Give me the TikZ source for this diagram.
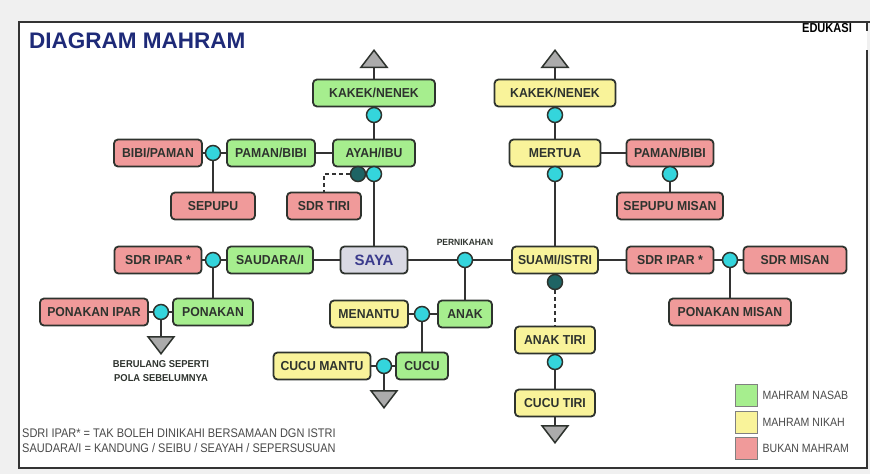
\documentclass[tikz,border=0pt]{standalone}
\usepackage{fontspec}
\setmainfont{Liberation Sans}
\newfontfamily\boxfont[FakeStretch=0.94]{Liberation Sans}
\newfontfamily\notefont[FakeStretch=0.88]{Liberation Sans}
\newfontfamily\stampfont[FakeStretch=0.85]{Liberation Sans}
\usetikzlibrary{positioning,shapes.geometric}
\definecolor{pagebg}{HTML}{F0F0F0}
\definecolor{nasab}{HTML}{A6EE8E}
\definecolor{nikah}{HTML}{F9F39A}
\definecolor{bukan}{HTML}{F09A9A}
\definecolor{selfgray}{HTML}{D9D9E3}
\definecolor{selfblue}{HTML}{3A3A8C}
\definecolor{dotcyan}{HTML}{34D5DC}
\definecolor{dottiri}{HTML}{1E6464}
\definecolor{trigray}{HTML}{ABABAB}
\definecolor{titleblue}{HTML}{1E2A78}
\definecolor{boxline}{HTML}{2E332E}
\definecolor{linecol}{HTML}{333333}
\definecolor{notegray}{HTML}{4A4A4A}

\begin{document}
\begin{tikzpicture}[x=1pt,y=-1pt,every node/.style={inner sep=0pt},
box/.style={draw=boxline,line width=1.8pt,rounded corners=4pt,minimum height=27pt,text=boxline,font=\boxfont\bfseries\fontsize{13}{13}\selectfont},
nasabbox/.style={box,fill=nasab},
nikahbox/.style={box,fill=nikah},
bukanbox/.style={box,fill=bukan},
dot/.style={circle,draw=boxline,line width=1.5pt,fill=dotcyan,minimum size=15pt},
tiridot/.style={dot,fill=dottiri},
uptri/.style={isosceles triangle,isosceles triangle stretches,shape border rotate=90,draw=boxline,line width=1.5pt,fill=trigray,minimum width=26pt,minimum height=17pt},
downtri/.style={uptri,shape border rotate=270},
link/.style={draw=linecol,line width=2.2pt},
tirilink/.style={link,dash pattern=on 4pt off 3pt},
smalltext/.style={text=boxline,font=\boxfont\bfseries\fontsize{10}{14}\selectfont,align=center},
notetext/.style={text=notegray,font=\notefont\fontsize{12.5}{12.5}\selectfont,anchor=west},
legbox/.style={draw=gray,line width=0.8pt,minimum size=22pt}]

% page and frame
\useasboundingbox (0,0) rectangle (870,474);
\fill[pagebg] (0,0) rectangle (870,474);
\fill[white] (19,22) rectangle (867,468);
\draw[linecol,line width=1.5pt] (870,22) -- (19,22) -- (19,468) -- (867,468) -- (867,50);
\draw[linecol,line width=1.5pt] (867,22) -- (867,31);
\node[anchor=west,text=titleblue,font=\bfseries\fontsize{22.5}{22.5}\selectfont] (title) at (29,41) {DIAGRAM MAHRAM};
\node[font=\stampfont\bfseries\fontsize{13}{13}\selectfont] (stamp) at (827,28) {EDUKASI};

% own side
\node[uptri,anchor=lower side] (upL) at (374,68) {};
\node[nasabbox,minimum width=122pt] (kakekL) at (374,93) {KAKEK/NENEK};
\node[dot] (dotKL) at (374,115) {};
\node[nasabbox,minimum width=82pt] (ayah) at (374,153) {AYAH/IBU};
\node[nasabbox,minimum width=88pt] (paman) at (271,153) {PAMAN/BIBI};
\node[bukanbox,minimum width=88pt] (bibi) at (158,153) {BIBI/PAMAN};
\node[dot] (dotPaman) at (213,153) {};
\node[bukanbox,minimum width=84pt] (sepupu) at (213,206) {SEPUPU};
\node[bukanbox,minimum width=74pt] (sdrtiri) at (324,206) {SDR TIRI};
\node[tiridot] (tiriAyah) at (358,174) {};
\node[dot] (dotAyah) at (374,174) {};

\node[box,fill=selfgray,minimum width=67pt,text=selfblue,font=\bfseries\fontsize{15}{15}\selectfont] (saya) at (374,260) {SAYA};
\node[nasabbox,minimum width=86pt] (saudara) at (270,260) {SAUDARA/I};
\node[bukanbox,minimum width=87pt] (sdripar) at (158,260) {SDR IPAR *};
\node[dot] (dotSdr) at (213,260) {};
\node[nasabbox,minimum width=80pt] (ponakan) at (213,312) {PONAKAN};
\node[bukanbox,minimum width=108pt] (ponipar) at (94,312) {PONAKAN IPAR};
\node[dot] (dotPon) at (161,312) {};
\node[downtri,anchor=lower side] (downPon) at (161,336) {};
\node[smalltext,below=5pt of downPon] (berulang) {BERULANG SEPERTI\\POLA SEBELUMNYA};

% children
\node[dot] (dotNikah) at (465,260) {};
\node[smalltext,font=\boxfont\bfseries\fontsize{9}{9}\selectfont,above=6pt of dotNikah] (nikahlbl) {PERNIKAHAN};
\node[nasabbox,minimum width=54pt] (anak) at (465,314) {ANAK};
\node[nikahbox,minimum width=78pt] (menantu) at (369,314) {MENANTU};
\node[dot] (dotAnak) at (422,314) {};
\node[nasabbox,minimum width=52pt] (cucu) at (422,366) {CUCU};
\node[nikahbox,minimum width=97pt] (cucumantu) at (322,366) {CUCU MANTU};
\node[dot] (dotCucu) at (384,366) {};
\node[downtri,anchor=lower side] (downCucu) at (384,390) {};

% spouse side
\node[uptri,anchor=lower side] (upR) at (555,68) {};
\node[nikahbox,minimum width=121pt] (kakekR) at (555,93) {KAKEK/NENEK};
\node[dot] (dotKR) at (555,115) {};
\node[nikahbox,minimum width=91pt] (mertua) at (555,153) {MERTUA};
\node[dot] (dotMertua) at (555,174) {};
\node[bukanbox,minimum width=87pt] (pamanR) at (670,153) {PAMAN/BIBI};
\node[dot] (dotPamanR) at (670,174) {};
\node[bukanbox,minimum width=106pt] (sepupumisan) at (670,206) {SEPUPU MISAN};

\node[nikahbox,minimum width=86pt] (suami) at (555,260) {SUAMI/ISTRI};
\node[tiridot] (tiriSuami) at (555,282) {};
\node[nikahbox,minimum width=80pt] (anaktiri) at (555,340) {ANAK TIRI};
\node[dot] (dotAnakTiri) at (555,362) {};
\node[nikahbox,minimum width=80pt] (cucutiri) at (555,403) {CUCU TIRI};
\node[downtri,anchor=lower side] (downTiri) at (555,425) {};

\node[bukanbox,minimum width=87pt] (sdriparR) at (670,260) {SDR IPAR *};
\node[dot] (dotMisan) at (730,260) {};
\node[bukanbox,minimum width=103pt] (sdrmisan) at (795,260) {SDR MISAN};
\node[bukanbox,minimum width=122pt] (ponmisan) at (730,312) {PONAKAN MISAN};

% connectors
\draw[link] (upL) -- (kakekL);
\draw[link] (dotKL) -- (ayah);
\draw[link] (bibi) -- (dotPaman);
\draw[link] (dotPaman) -- (paman);
\draw[link] (paman) -- (ayah);
\draw[link] (dotPaman) -- (sepupu);
\draw[link] (dotAyah) -- (saya);
\draw[tirilink] (tiriAyah) -| (sdrtiri);
\draw[link] (sdripar) -- (dotSdr);
\draw[link] (dotSdr) -- (saudara);
\draw[link] (saudara) -- (saya);
\draw[link] (dotSdr) -- (ponakan);
\draw[link] (ponipar) -- (dotPon);
\draw[link] (dotPon) -- (ponakan);
\draw[link] (dotPon) -- (downPon);
\draw[link] (saya) -- (dotNikah);
\draw[link] (dotNikah) -- (suami);
\draw[link] (dotNikah) -- (anak);
\draw[link] (menantu) -- (dotAnak);
\draw[link] (dotAnak) -- (anak);
\draw[link] (dotAnak) -- (cucu);
\draw[link] (cucumantu) -- (dotCucu);
\draw[link] (dotCucu) -- (cucu);
\draw[link] (dotCucu) -- (downCucu);
\draw[link] (upR) -- (kakekR);
\draw[link] (dotKR) -- (mertua);
\draw[link] (mertua) -- (pamanR);
\draw[link] (dotPamanR) -- (sepupumisan);
\draw[link] (dotMertua) -- (suami);
\draw[link] (suami) -- (sdriparR);
\draw[link] (sdriparR) -- (dotMisan);
\draw[link] (dotMisan) -- (sdrmisan);
\draw[link] (dotMisan) -- (ponmisan);
\draw[tirilink] (tiriSuami) -- (anaktiri);
\draw[link] (dotAnakTiri) -- (cucutiri);
\draw[link] (cucutiri) -- (downTiri);

% legend and notes
\node[legbox,fill=nasab] (legNasab) at (746,395) {};
\node[legbox,fill=nikah] (legNikah) at (746,422) {};
\node[legbox,fill=bukan] (legBukan) at (746,448) {};
\node[notetext,font=\notefont\fontsize{12}{12}\selectfont,right=5pt of legNasab] (legNasabTxt) {MAHRAM NASAB};
\node[notetext,font=\notefont\fontsize{12}{12}\selectfont,right=5pt of legNikah] (legNikahTxt) {MAHRAM NIKAH};
\node[notetext,font=\notefont\fontsize{12}{12}\selectfont,right=5pt of legBukan] (legBukanTxt) {BUKAN MAHRAM};
\node[notetext] (note1) at (22,433) {SDRI IPAR* = TAK BOLEH DINIKAHI BERSAMAAN DGN ISTRI};
\node[notetext] (note2) at (22,448) {SAUDARA/I = KANDUNG / SEIBU / SEAYAH / SEPERSUSUAN};
\end{tikzpicture}
\end{document}
